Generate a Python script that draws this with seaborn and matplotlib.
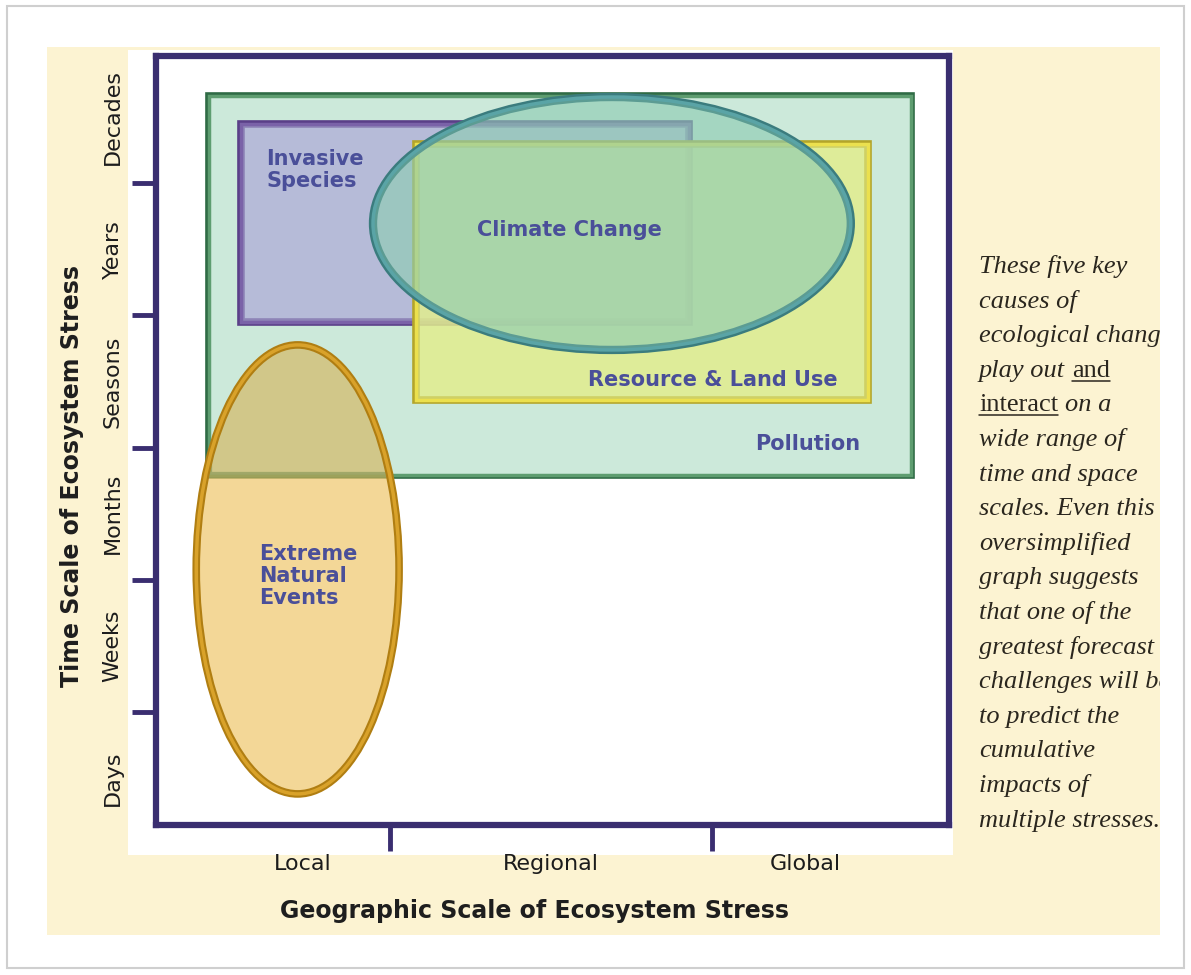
import matplotlib
matplotlib.use("Agg")
import matplotlib.pyplot as plt
import matplotlib.patches as mpatches
import matplotlib.patheffects as pe
from matplotlib.lines import Line2D
from matplotlib.transforms import Bbox, TransformedBbox
import seaborn as sns

# --- dati del grafico ---
TIME_BANDS = ["Days", "Weeks", "Months", "Seasons", "Years", "Decades"]
TIME_BAND_POS = [0.5, 1.5, 2.5, 3.5, 4.5, 5.5]
TIME_BOUNDS = [1, 2, 3, 4, 5]

GEO_SCALES = ["Local", "Regional", "Global"]
GEO_LABEL_POS = [0.73, 1.5, 2.29]
GEO_BOUNDS = [1, 2]

# rettangoli: Pollution, Invasive Species, Resource & Land Use
RECT_X0 = [0.438, 0.537, 1.081]
RECT_X1 = [2.618, 1.929, 2.484]
RECT_Y0 = [2.79, 3.949, 3.36]
RECT_Y1 = [5.66, 5.446, 5.295]

# ellissi: Climate Change, Extreme Natural Events
ELL_CX = [1.689, 0.713]
ELL_CY = [4.694, 2.079]
ELL_W = [1.484, 0.630]
ELL_H = [1.912, 3.394]

LABELS = ["Pollution", "Invasive\nSpecies", "Resource & Land Use",
          "Climate Change", "Extreme\nNatural\nEvents"]
LABEL_X = [2.46, 0.615, 2.391, 1.556, 0.593]
LABEL_Y = [3.027, 5.10, 3.511, 4.645, 2.029]
LABEL_HA = ["right", "left", "right", "center", "left"]

NOTE_LINES = [
    "These five key", "causes of", "ecological change", "play out |and|",
    "|interact| on a", "wide range of", "time and space", "scales. Even this",
    "oversimplified", "graph suggests", "that one of the", "greatest forecast",
    "challenges will be", "to predict the", "cumulative", "impacts of",
    "multiple stresses.",
]

# --- stile ---
sns.set_theme(style="ticks")
plt.rcParams['font.family'] = ['DejaVu Sans']

W, H = 1191, 975
AXIS_COL = '#3a2e70'
LABEL_COL = '#4a4f99'
CREAM = '#fcf3d2'


def px_box(x0, y0, x1, y1):
    """Pixel (origine in alto) -> coordinate figura."""
    return x0 / W, 1 - y1 / H, (x1 - x0) / W, (y1 - y0) / H


def rgba(hexcol, a):
    r, g, b = matplotlib.colors.to_rgb(hexcol)
    return (r, g, b, a)


fig = plt.figure(figsize=(W / 100, H / 100), dpi=100, facecolor='white')

# cornice della pagina, fondo crema e area bianca
bx = px_box(7, 6, 1184, 968)
fig.add_artist(mpatches.Rectangle(bx[:2], bx[2], bx[3], transform=fig.transFigure,
                                  fill=False, edgecolor='#cfcfcf', lw=1.5, zorder=-3))
cx = px_box(47, 47, 1160, 935)
fig.add_artist(mpatches.Rectangle(cx[:2], cx[2], cx[3], transform=fig.transFigure,
                                  facecolor=CREAM, edgecolor='none', zorder=-2))
wx = px_box(128, 50, 953, 855)
fig.add_artist(mpatches.Rectangle(wx[:2], wx[2], wx[3], transform=fig.transFigure,
                                  facecolor='white', edgecolor='none', zorder=-1))

ax = fig.add_axes(px_box(156, 56, 949, 825))
ax.set_facecolor('white')
ax.set_xlim(0.273, 2.736)
ax.set_ylim(0.147, 5.96)

for s in ax.spines.values():
    s.set_color(AXIS_COL)
    s.set_linewidth(4.5)

ax.set_xticks(GEO_BOUNDS)
ax.set_xticklabels([])
ax.set_xticks(GEO_LABEL_POS, minor=True)
ax.set_xticklabels(GEO_SCALES, minor=True)
ax.set_yticks(TIME_BOUNDS)
ax.set_yticklabels([])
ax.set_yticks(TIME_BAND_POS, minor=True)
ax.set_yticklabels(TIME_BANDS, minor=True, rotation=90, va='center')

ax.tick_params(axis='both', which='major', direction='out', width=3.5, color=AXIS_COL)
ax.tick_params(axis='x', which='major', length=19)
ax.tick_params(axis='y', which='major', length=17)
ax.tick_params(axis='both', which='minor', length=0, labelsize=16, labelcolor='#1c1c1c')
ax.tick_params(axis='x', which='minor', pad=21)
ax.tick_params(axis='y', which='minor', pad=24)

ax.set_xlabel("Geographic Scale of Ecosystem Stress", fontsize=17,
              fontweight='bold', color='#1e1e1e', va='center')
ax.xaxis.set_label_coords(0.477, -0.112)
ax.set_ylabel("Time Scale of Ecosystem Stress", fontsize=17,
              fontweight='bold', color='#1e1e1e', va='center')
ax.yaxis.set_label_coords(-0.106, 0.454)


def stroke(dark, w):
    return [pe.Stroke(linewidth=w, foreground=dark), pe.Normal()]


def rect(i, **kw):
    return mpatches.Rectangle((RECT_X0[i], RECT_Y0[i]), RECT_X1[i] - RECT_X0[i],
                              RECT_Y1[i] - RECT_Y0[i], **kw)


def ellipse(i, **kw):
    return mpatches.Ellipse((ELL_CX[i], ELL_CY[i]), ELL_W[i], ELL_H[i], **kw)


# Pollution
poll = rect(0, facecolor='#cce9da', edgecolor='#5e9d70', lw=2.5, zorder=1,
            path_effects=stroke('#2f6b45', 5.5))
ax.add_patch(poll)
# Invasive Species
ax.add_patch(rect(1, facecolor=rgba('#b2b3d8', 0.6), edgecolor='#7a62a8', lw=2.5,
                  zorder=2, path_effects=stroke('#5a3f88', 5.5)))
# Resource & Land Use
ax.add_patch(rect(2, facecolor=rgba('#e2ee8d', 0.6), edgecolor='#ebe04e', lw=2.5,
                  zorder=3, path_effects=stroke('#b3a52a', 5.5)))
# Climate Change
ax.add_patch(ellipse(0, facecolor=rgba('#8ecdb4', 0.4), edgecolor='#5aa4a6', lw=2.5,
                     zorder=4, path_effects=stroke('#3b7c7e', 6)))
# Extreme Natural Events: fondo, sovrapposizione con Pollution, bordo
ext_fill = ellipse(1, facecolor=rgba('#f0ca74', 0.75), edgecolor='none', zorder=5)
ax.add_patch(ext_fill)
ext_over = ellipse(1, facecolor=rgba('#c9c488', 0.7), edgecolor='none', zorder=5.1)
ax.add_patch(ext_over)
ext_over.set_clip_path(poll)
poll_line = rect(0, fill=False, edgecolor='#5a7a3a', lw=4.5, alpha=0.4, zorder=5.15)
ax.add_patch(poll_line)
poll_line.set_clip_path(ext_fill)
ax.add_patch(ellipse(1, fill=False, edgecolor='#d9a22a', lw=2.5, zorder=5.2,
                     path_effects=stroke('#b07e12', 5.5)))

for txt, x, y, ha in zip(LABELS, LABEL_X, LABEL_Y, LABEL_HA):
    ax.text(x, y, txt, ha=ha, va='center', fontsize=15, fontweight='bold',
            color=LABEL_COL, linespacing=1.1, zorder=10)

# --- testo a destra, ritagliato sul bordo crema ---
renderer = fig.canvas.get_renderer()
clip = TransformedBbox(Bbox([[cx[0], cx[1]], [cx[0] + cx[2], cx[1] + cx[3]]]), fig.transFigure)
NOTE_X = 979
NOTE_Y0 = 273
NOTE_STEP = 34.6
NOTE_COL = '#2a261e'
FS = 19
font_it = dict(family=['Liberation Serif', 'DejaVu Serif'], style='italic')
font_rm = dict(family=['Liberation Serif', 'DejaVu Serif'], style='normal')

for i, line in enumerate(NOTE_LINES):
    ypx = NOTE_Y0 + i * NOTE_STEP
    xpx = NOTE_X
    parts = line.split('|')
    for j, part in enumerate(parts):
        if part == '':
            continue
        under = (j % 2 == 1)
        seg = part.strip()
        if part.startswith(' ') and xpx > NOTE_X:
            xpx += 0.25 * FS * 100 / 72
        t = fig.text(xpx / W, 1 - ypx / H, seg, fontsize=FS, color=NOTE_COL,
                     va='baseline', ha='left', **(font_rm if under else font_it))
        t.set_clip_box(clip)
        bb = t.get_window_extent(renderer)
        if under:
            uy = (H - ypx - 4) / H
            fig.add_artist(Line2D([bb.x0 / W, bb.x1 / W], [uy, uy], color=NOTE_COL,
                                  lw=1.1, transform=fig.transFigure))
        xpx = bb.x1
        if part.endswith(' '):
            xpx += 0.25 * FS * 100 / 72

fig.savefig("out.png", dpi=100, facecolor='white')
